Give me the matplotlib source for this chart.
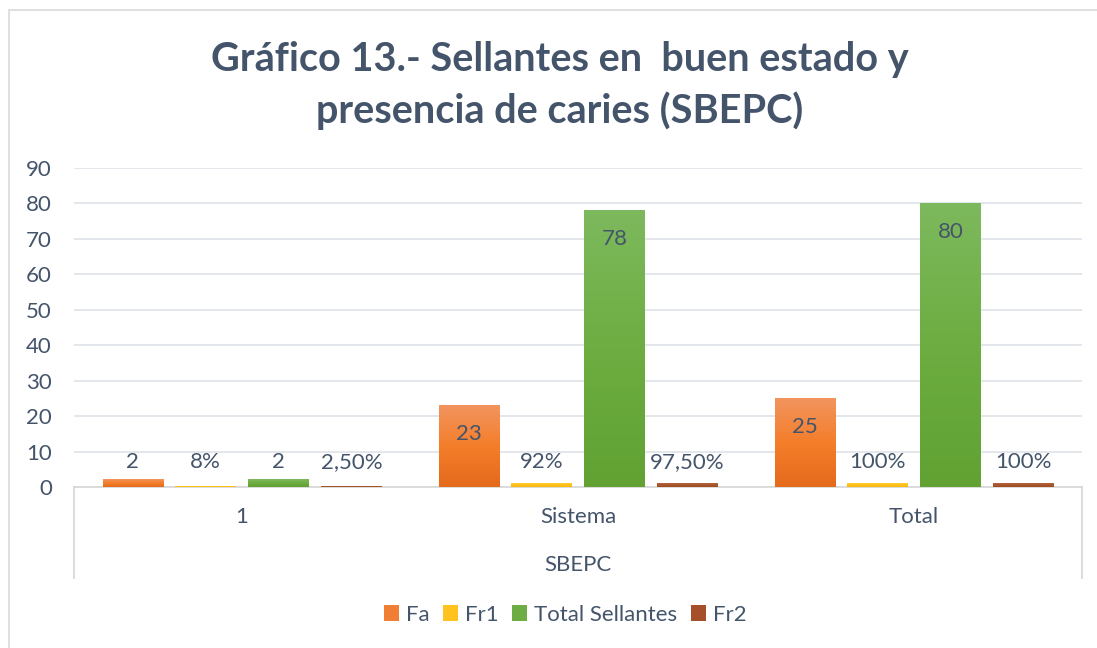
import numpy as np
import matplotlib
matplotlib.use("Agg")
import matplotlib.pyplot as plt
from matplotlib.patches import Patch, Rectangle
from matplotlib.colors import LinearSegmentedColormap

plt.rcParams['font.family'] = ['Lato', 'DejaVu Sans']

# data
categories = ["1", "Sistema", "Total"]
series_names = ["Fa", "Fr1", "Total Sellantes", "Fr2"]
fa = [2, 23, 25]
fr1 = [0.08, 0.92, 1.0]
total_sellantes = [2, 78, 80]
fr2 = [0.025, 0.975, 1.0]
labels_fa = ["2", "23", "25"]
labels_fr1 = ["8%", "92%", "100%"]
labels_total = ["2", "78", "80"]
labels_fr2 = ["2,50%", "97,50%", "100%"]

series = [fa, fr1, total_sellantes, fr2]
series_labels = [labels_fa, labels_fr1, labels_total, labels_fr2]

# gradient colours (top, middle, bottom) per series
grads = [
    ["#F2945F", "#F47E2A", "#E56A1C"],
    ["#FFCB3A", "#FFC11A", "#F5B800"],
    ["#7DB95D", "#6DAD41", "#61A233"],
    ["#B4663F", "#A8552C", "#9E4A20"],
]
solid = ["#F07F35", "#FFC21E", "#6EAD43", "#A5502A"]

text_color = "#44546A"
grid_color = "#E1E4E8"
fs = 16

fig = plt.figure(figsize=(10.97, 6.48), dpi=100)
ax = fig.add_axes([74 / 1097, 1 - 487 / 648, (1082 - 74) / 1097, (487 - 168) / 648])

# outer chart frame
fig.patches.append(Rectangle((9 / 1097, -0.01), 1.2, 1 - 10 / 648 + 0.01, transform=fig.transFigure,
                             fill=False, edgecolor="#D9D9D9", linewidth=1.2))

x = np.arange(len(categories))
step = 0.217
width = 0.179
offsets = (np.arange(len(series)) - 1.5) * step

for i, vals in enumerate(series):
    cmap = LinearSegmentedColormap.from_list("g%d" % i, grads[i][::-1])
    grad = np.linspace(0, 1, 100).reshape(-1, 1)
    bars = ax.bar(x + offsets[i], vals, width, color=solid[i], zorder=2, linewidth=0)
    for b, v, lab in zip(bars, vals, series_labels[i]):
        x0 = b.get_x()
        ax.imshow(grad, cmap=cmap, origin="lower", aspect="auto",
                  extent=(x0, x0 + width, 0, v), zorder=3, interpolation="bilinear")
        # big bars get the label inside, small ones above
        ly = v - 8 if v > 10 else 7
        ax.text(x0 + width / 2, ly, lab, ha="center", va="center",
                fontsize=fs, color=text_color, zorder=4)

ax.set_xlim(-0.5, len(categories) - 0.5)
ax.set_ylim(0, 90)

ax.set_yticks(range(0, 91, 10))
ax.yaxis.grid(True, color=grid_color, linewidth=1.3)
ax.set_axisbelow(True)
ax.tick_params(axis="y", length=0, pad=16, labelsize=fs, labelcolor=text_color)
ax.set_xticks([])
for s in ["top", "right", "left"]:
    ax.spines[s].set_visible(False)
ax.spines["bottom"].set_color("#D9D9D9")
ax.spines["bottom"].set_linewidth(1.3)

# multi level category axis
trans = ax.get_xaxis_transform()
for xi, cat in zip(x, categories):
    ax.text(xi, -30 / 319, cat, transform=trans, ha="center", va="center",
            fontsize=fs, color=text_color)
ax.text(1, -78 / 319, "SBEPC", transform=trans, ha="center", va="center",
        fontsize=fs, color=text_color)
for xe in [-0.5, len(categories) - 0.5]:
    ax.plot([xe, xe], [0, -91 / 319], transform=trans, color="#D9D9D9",
            linewidth=1.3, clip_on=False)

# title, two lines
fig.text(560 / 1097, 1 - 60 / 648, "Gráfico 13.- Sellantes en  buen estado y", ha="center",
         va="center", fontsize=28.5, fontweight="bold", color=text_color)
fig.text(560 / 1097, 1 - 111 / 648, "presencia de caries (SBEPC)", ha="center",
         va="center", fontsize=28.5, fontweight="bold", color=text_color)

handles = [Patch(facecolor=c, edgecolor="none") for c in solid]
fig.legend(handles, series_names, loc="center", bbox_to_anchor=(565 / 1097, 1 - 615 / 648),
           ncol=4, frameon=False, fontsize=fs, handlelength=0.7, handleheight=0.7,
           handletextpad=0.3, columnspacing=0.6, labelcolor=text_color)

fig.savefig("out.png", dpi=100)
